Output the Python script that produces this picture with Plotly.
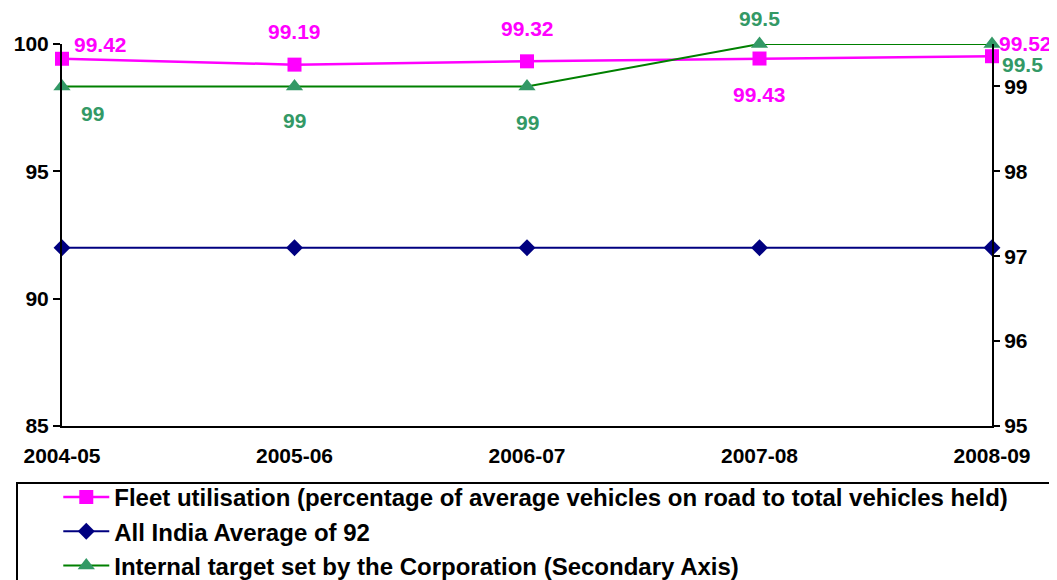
import plotly.graph_objects as go

years = ["2004-05", "2005-06", "2006-07", "2007-08", "2008-09"]
fleet = [99.42, 99.19, 99.32, 99.43, 99.52]
india_avg = [92, 92, 92, 92, 92]
target = [99, 99, 99, 99.5, 99.5]

name_fleet = "Fleet utilisation (percentage of average vehicles on road to total vehicles held)"
name_india = "All India Average of 92"
name_target = "Internal target set by the Corporation (Secondary Axis)"

PINK = "#FF00FF"
NAVY = "#000080"
GREEN_LINE = "#008000"
GREEN_MK = "#339966"
FONT = "Liberation Sans, Arial, sans-serif"
FS = 21
FS_LEG = 24

xs = list(range(len(years)))


def b(t):
    return f"<b>{t}</b>"


fig = go.Figure()
fig.add_trace(go.Scatter(
    x=xs, y=fleet, name=b(name_fleet), mode="lines+markers",
    line=dict(color=PINK, width=2.5),
    marker=dict(symbol="square", size=14, color=PINK),
    cliponaxis=False,
))
fig.add_trace(go.Scatter(
    x=xs, y=india_avg, name=b(name_india), mode="lines+markers",
    line=dict(color=NAVY, width=2),
    marker=dict(symbol="diamond", size=13, color=NAVY),
    cliponaxis=False,
))
fig.add_trace(go.Scatter(
    x=xs, y=target, name=b(name_target), mode="lines+markers", yaxis="y2",
    line=dict(color=GREEN_LINE, width=2),
    marker=dict(symbol="triangle-up", size=15, color=GREEN_MK),
    cliponaxis=False,
))

# data labels (offsets in pixels)
fleet_shift = [(38, 14), (0, 33), (0, 33), (0, -36), (33, 13)]
target_shift = [(30, -27), (0, -34), (0, -36), (0, 26), (30, -20)]
annotations = []
for i, v in enumerate(fleet):
    dx, dy = fleet_shift[i]
    annotations.append(dict(x=xs[i], y=v, xref="x", yref="y", text=b(f"{v:g}"),
                            showarrow=False, xshift=dx, yshift=dy,
                            font=dict(family=FONT, size=FS, color=PINK)))
for i, v in enumerate(target):
    dx, dy = target_shift[i]
    annotations.append(dict(x=xs[i], y=v, xref="x", yref="y2", text=b(f"{v:g}"),
                            showarrow=False, xshift=dx, yshift=dy,
                            font=dict(family=FONT, size=FS, color=GREEN_MK)))

# page body has an 8px margin, so the figure is 8px smaller and margins reduced
fig.update_layout(
    width=1049, height=572,
    margin=dict(l=54, r=65, t=36, b=154, autoexpand=False),
    paper_bgcolor="white", plot_bgcolor="white",
    font=dict(family=FONT, size=FS, color="black"),
    showlegend=True,
    legend=dict(x=-0.004, y=-0.128, xanchor="left", yanchor="top",
                font=dict(family=FONT, size=FS_LEG, color="black"),
                bgcolor="rgba(0,0,0,0)", borderwidth=0,
                itemwidth=46, tracegroupgap=0),
    xaxis=dict(range=[0, 4], tickvals=xs, ticktext=[b(y) for y in years], showgrid=False,
               zeroline=False, showline=True, linecolor="black", linewidth=2,
               ticks="", ticklabelstandoff=10, automargin=False),
    yaxis=dict(range=[85, 100], tickvals=[85, 90, 95, 100],
               ticktext=[b(v) for v in [85, 90, 95, 100]], showgrid=False,
               zeroline=False, showline=True, linecolor="black", linewidth=2,
               ticks="outside", ticklen=7, tickwidth=2, tickcolor="black",
               automargin=False),
    yaxis2=dict(range=[95, 99.5], tickvals=[95, 96, 97, 98, 99],
                ticktext=[b(v) for v in [95, 96, 97, 98, 99]], overlaying="y",
                side="right", showgrid=False, zeroline=False, showline=True,
                linecolor="black", linewidth=2, ticks="outside", ticklen=6,
                tickwidth=2, tickcolor="black", automargin=False),
    annotations=annotations,
    shapes=[dict(type="rect", xref="paper", yref="paper",
                 x0=-45 / 930, x1=1100 / 930, y0=-200 / 382, y1=-57 / 382,
                 line=dict(color="black", width=2), fillcolor="rgba(0,0,0,0)")],
)

fig.write_html("out.html")
